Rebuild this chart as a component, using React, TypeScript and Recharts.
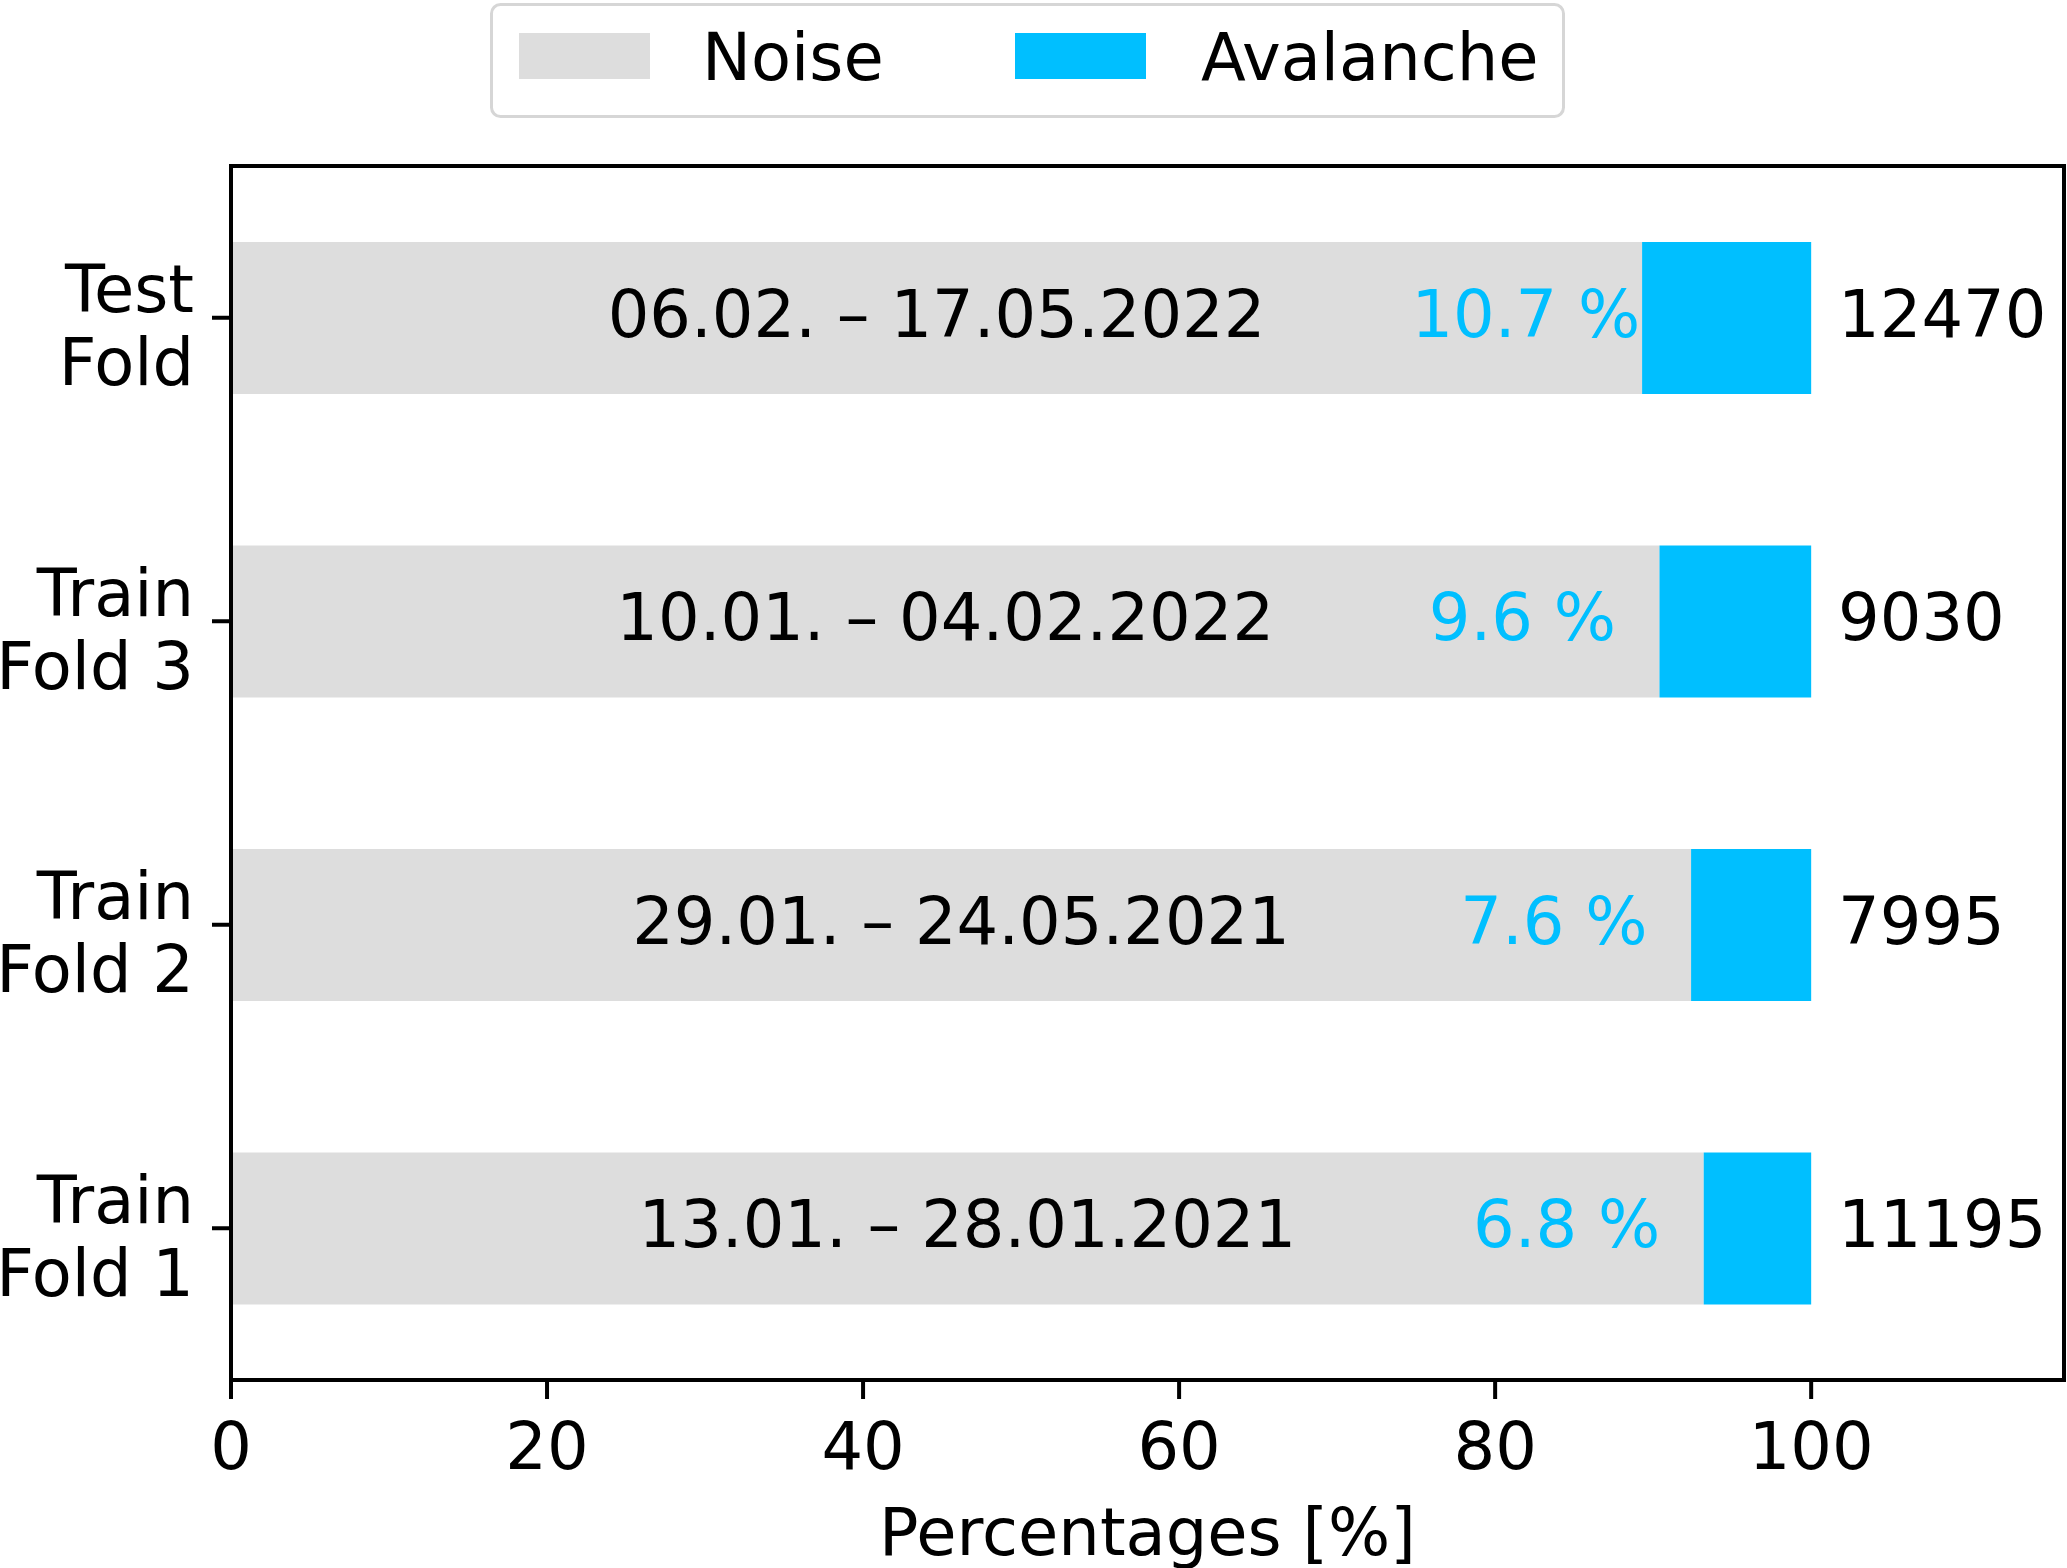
import React from 'react';
import { BarChart, Bar, XAxis, YAxis, Legend, LabelList } from 'recharts';

const categories = ['Test Fold', 'Train Fold 3', 'Train Fold 2', 'Train Fold 1'];
const noisePct = [89.3, 90.4, 92.4, 93.2];
const avalanchePct = [10.7, 9.6, 7.6, 6.8];
const periods = [
  '06.02. – 17.05.2022',
  '10.01. – 04.02.2022',
  '29.01. – 24.05.2021',
  '13.01. – 28.01.2021',
];
const sampleCounts = [12470, 9030, 7995, 11195];
const xTicks = [0, 20, 40, 60, 80, 100];
const legendOrder = ['Noise', 'Avalanche'];

const data = categories.map((name, i) => ({
  name,
  noise: noisePct[i],
  avalanche: avalanchePct[i],
  period: periods[i],
}));

const FONT = '"DejaVu Sans", sans-serif';
const FONT_SIZE = 65.5;
const NOISE = '#dddddd';
const AVALANCHE = '#00bfff';
const axisStyle = { stroke: '#000', strokeWidth: 4, strokeLinecap: 'square' as const };
const tickStyle = { stroke: '#000', strokeWidth: 4 };

const YTick = (props: any) => {
  const { x, y, payload } = props;
  const [first, ...rest] = String(payload.value).split(' ');
  return (
    <g>
      <text x={x} y={y - 5.5} textAnchor="end" fontSize={FONT_SIZE} fontFamily={FONT} fill="#000">
        {first}
      </text>
      <text x={x} y={y + 67.5} textAnchor="end" fontSize={FONT_SIZE} fontFamily={FONT} fill="#000">
        {rest.join(' ')}
      </text>
    </g>
  );
};

const XTick = (props: any) => {
  const { x, y, payload } = props;
  return (
    <text x={x} y={y + 50} textAnchor="middle" fontSize={FONT_SIZE} fontFamily={FONT} fill="#000">
      {payload.value}
    </text>
  );
};

const renderPeriod = (props: any) => {
  const x = Number(props.x);
  const y = Number(props.y);
  const w = Number(props.width);
  const h = Number(props.height);
  return (
    <text x={x + w / 2} y={y + h / 2 + 19} textAnchor="middle" fontSize={FONT_SIZE} fontFamily={FONT} fill="#000">
      {props.value}
    </text>
  );
};

const renderAvalanche = (props: any) => {
  const x = Number(props.x);
  const y = Number(props.y);
  const w = Number(props.width);
  const h = Number(props.height);
  const value = Number(props.value);
  const perUnit = w / value;
  const base = y + h / 2 + 19;
  return (
    <g>
      <text x={x - 14.6 * perUnit} y={base} textAnchor="start" fontSize={FONT_SIZE} fontFamily={FONT} fill={AVALANCHE}>
        {`${value.toFixed(1)} %`}
      </text>
      <text x={x + w + 1.7 * perUnit} y={base} textAnchor="start" fontSize={FONT_SIZE} fontFamily={FONT} fill="#000">
        {sampleCounts[props.index]}
      </text>
    </g>
  );
};

const legendSlots = [
  { patchX: 29, textX: 212 },
  { patchX: 525, textX: 711 },
];

const LegendBox = (props: any) => {
  const items = [...(props.payload || [])].sort(
    (a: any, b: any) => legendOrder.indexOf(a.value) - legendOrder.indexOf(b.value),
  );
  return (
    <svg width={1075} height={115} style={{ display: 'block' }}>
      <rect x={1.5} y={1.5} width={1072} height={112} rx={9} fill="#fff" stroke="#d6d6d6" strokeWidth={3} />
      {items.map((item: any, i: number) => (
        <g key={item.value}>
          <rect x={legendSlots[i].patchX} y={30} width={131} height={46} fill={item.color} />
          <text x={legendSlots[i].textX} y={77} fontSize={FONT_SIZE} fontFamily={FONT} fill="#000">
            {item.value}
          </text>
        </g>
      ))}
    </svg>
  );
};

const XLabel = (props: any) => {
  const { x, y, width } = props.viewBox;
  return (
    <text x={x + width / 2} y={y + 175} textAnchor="middle" fontSize={FONT_SIZE} fontFamily={FONT} fill="#000">
      Percentages [%]
    </text>
  );
};

export default function App() {
  return (
    <div style={{ position: 'absolute', left: 0, top: 0, background: '#fff' }}>
      <BarChart
        width={2067}
        height={1568}
        data={data}
        layout="vertical"
        barCategoryGap="25%"
        margin={{ top: 165, right: 2, bottom: 0, left: 0 }}
      >
        <XAxis
          type="number"
          domain={[0, 116]}
          ticks={xTicks}
          interval={0}
          height={188}
          tickSize={19}
          tickMargin={20}
          tick={<XTick />}
          axisLine={axisStyle}
          tickLine={tickStyle}
          label={<XLabel />}
        />
        <XAxis
          xAxisId="top"
          orientation="top"
          type="number"
          domain={[0, 116]}
          height={1}
          tick={false}
          tickLine={false}
          axisLine={axisStyle}
        />
        <YAxis
          type="category"
          dataKey="name"
          width={231}
          interval={0}
          tickSize={19}
          tickMargin={18}
          tick={<YTick />}
          axisLine={axisStyle}
          tickLine={tickStyle}
        />
        <YAxis
          yAxisId="right"
          orientation="right"
          type="category"
          dataKey="name"
          width={1}
          tick={false}
          tickLine={false}
          axisLine={axisStyle}
        />
        <Legend
          verticalAlign="middle"
          align="center"
          layout="horizontal"
          content={<LegendBox />}
          wrapperStyle={{ top: 3, left: 490, width: 1075, height: 115, lineHeight: 0 }}
        />
        <Bar dataKey="noise" name="Noise" stackId="s" fill={NOISE} isAnimationActive={false}>
          <LabelList dataKey="period" content={renderPeriod} />
        </Bar>
        <Bar dataKey="avalanche" name="Avalanche" stackId="s" fill={AVALANCHE} isAnimationActive={false}>
          <LabelList dataKey="avalanche" content={renderAvalanche} />
        </Bar>
      </BarChart>
    </div>
  );
}
